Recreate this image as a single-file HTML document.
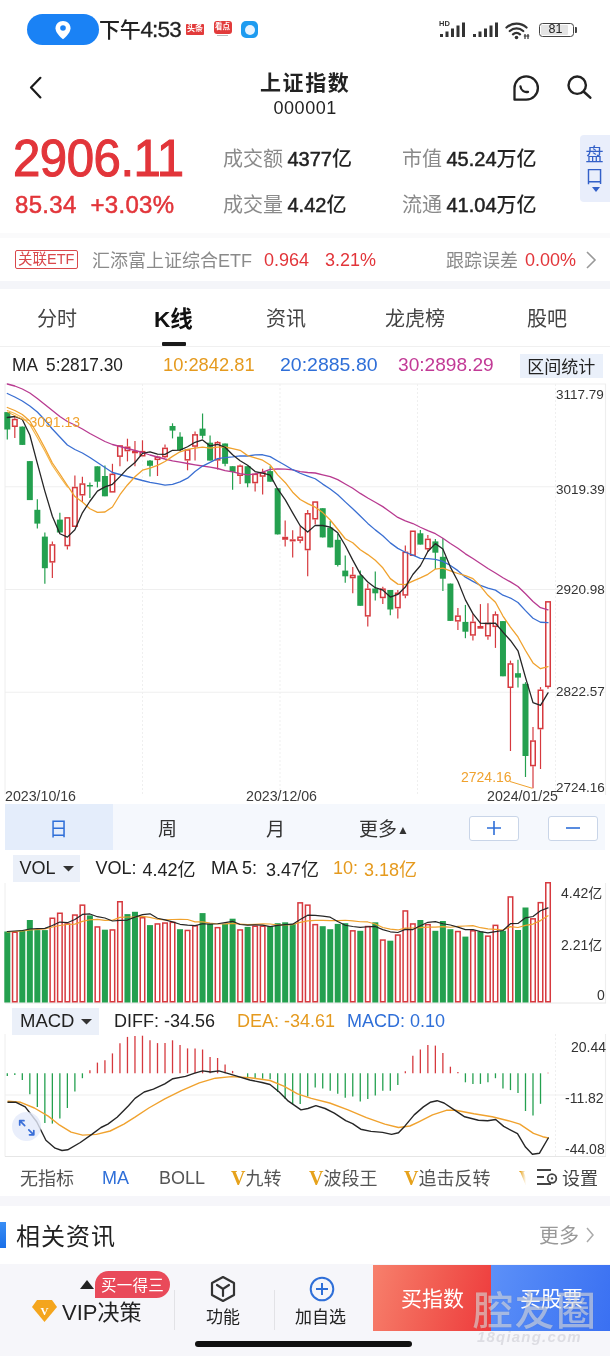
<!DOCTYPE html>
<html><head><meta charset="utf-8">
<style>
*{margin:0;padding:0;box-sizing:border-box}
html,body{width:610px;height:1356px;overflow:hidden;background:#fff}
body{position:relative;font-family:"Liberation Sans","Noto Sans CJK SC",sans-serif;color:#222}
.a{position:absolute;white-space:nowrap}
.cjk{font-family:"Liberation Sans","Noto Sans CJK SC",sans-serif}
.num{font-family:"Liberation Sans","Noto Sans CJK SC",sans-serif}
.gray{color:#8a8a8a}
.red{color:#e2353a}
.band{position:absolute;left:0;width:610px;background:#f4f5f9}
</style></head><body>

<!-- status bar -->
<div class="a" style="left:27px;top:14px;width:72px;height:31px;border-radius:16px;background:#1a82f5"></div>
<svg class="a" style="left:54px;top:20px" width="18" height="20" viewBox="0 0 18 20"><path d="M9 1C4.6 1 1.5 4.2 1.5 8.2c0 4.6 5.3 9.3 7.5 11 2.2-1.7 7.5-6.4 7.5-11C16.5 4.2 13.4 1 9 1z" fill="#fff"/><circle cx="9" cy="8" r="2.8" fill="#1a82f5"/></svg>
<div class="a cjk" style="left:99px;top:15px;font-size:21px;line-height:30px;color:#222;font-weight:500;letter-spacing:-0.3px">下午<span style="font-size:22.5px;letter-spacing:-0.8px;-webkit-text-stroke:0.3px #222">4:53</span></div>
<div class="a" style="left:186px;top:24px;width:18px;height:10.5px;background:#e23b3b;border-radius:1px"></div>
<div class="a cjk" style="left:187px;top:24px;font-size:8px;line-height:10px;color:#fff;font-weight:bold">头条</div>
<div class="a" style="left:214px;top:21px;width:17.5px;height:12.5px;background:#e23b3b;border-radius:3px"></div>
<div class="a cjk" style="left:215px;top:22px;font-size:7.5px;line-height:10px;color:#fff;font-weight:bold">看点</div>
<div class="a" style="left:217px;top:35px;width:11px;height:1px;background:#bbb"></div>
<div class="a" style="left:241px;top:21px;width:17px;height:17px;background:#1d9bf0;border-radius:5px"></div>
<div class="a" style="left:244.5px;top:24.5px;width:10px;height:10px;background:#e6f3ff;border-radius:50%"></div>
<!-- status right -->
<div class="a num" style="left:439px;top:19.5px;font-size:7.5px;line-height:8px;font-weight:bold;color:#333">HD</div>
<svg class="a" style="left:440px;top:22px" width="60" height="16" viewBox="0 0 60 16">
<g fill="#333"><rect x="0" y="12" width="3" height="3"/><rect x="5.5" y="9.5" width="3" height="5.5"/><rect x="11" y="6.5" width="3" height="8.5"/><rect x="16.5" y="3.5" width="3" height="11.5"/><rect x="22" y="0.5" width="3" height="14.5"/>
<rect x="33" y="12" width="3" height="3"/><rect x="38.5" y="9.5" width="3" height="5.5"/><rect x="44" y="6.5" width="3" height="8.5"/><rect x="49.5" y="3.5" width="3" height="11.5"/><rect x="55" y="0.5" width="3" height="14.5"/></g></svg>
<svg class="a" style="left:505px;top:21px" width="26" height="19" viewBox="0 0 26 19"><path d="M1.5 6.5a15 15 0 0 1 20 0M4.8 10a10 10 0 0 1 13.4 0M8 13.3a5.3 5.3 0 0 1 7 0" fill="none" stroke="#333" stroke-width="2.3" stroke-linecap="round"/><circle cx="11.5" cy="16.5" r="1.8" fill="#333"/><path d="M20 13v5M23 13v5M18.8 15h5.5" stroke="#333" stroke-width="1.2"/></svg>
<div class="a" style="left:538.5px;top:22.5px;width:35.5px;height:14.5px;border:1.3px solid #444;border-radius:3.5px"></div>
<div class="a" style="left:541px;top:25px;width:27px;height:9.5px;background:#e4e4e4;border-radius:1px"></div>
<div class="a" style="left:575px;top:27px;width:2px;height:5.5px;background:#444;border-radius:0 1px 1px 0"></div>
<div class="a num" style="left:548.5px;top:22px;font-size:12.5px;line-height:15px;color:#222">81</div>

<!-- header -->
<svg class="a" style="left:27px;top:76px" width="18" height="26" viewBox="0 0 18 26"><path d="M13.4 1.8L4 11.5l9.4 9.9" fill="none" stroke="#1a1a1a" stroke-width="2.2" stroke-linecap="round" stroke-linejoin="round"/></svg>
<div class="a cjk" style="left:260px;top:69px;font-size:21px;line-height:28px;font-weight:bold;color:#222;letter-spacing:1.6px">上证指数</div>
<div class="a num" style="left:273.5px;top:98px;font-size:18px;line-height:20px;color:#222;letter-spacing:0.55px">000001</div>

<svg class="a" style="left:512px;top:74px" width="28" height="28" viewBox="0 0 28 28"><path d="M2.5 25.5V14A11.7 11.7 0 1 1 14.2 25.7H2.5z" fill="none" stroke="#222" stroke-width="2.3" stroke-linejoin="round"/><path d="M8.5 12.5a6 6 0 0 0 7.5 5.3" fill="none" stroke="#222" stroke-width="2.3" stroke-linecap="round"/></svg>
<svg class="a" style="left:566px;top:74px" width="28" height="28" viewBox="0 0 28 28"><circle cx="11.2" cy="11.2" r="8.7" fill="none" stroke="#222" stroke-width="2.4"/><path d="M17.8 17.8l6.5 5.8" stroke="#222" stroke-width="2.6" stroke-linecap="round"/></svg>
<!-- price block -->
<div class="a num red" style="left:13px;top:128px;font-size:52px;line-height:60px;letter-spacing:-0.5px;transform:scaleX(0.945);transform-origin:0 0;-webkit-text-stroke:1.1px #e2353a">2906.11</div>
<div class="a num red" style="left:15px;top:190.5px;font-size:24px;line-height:28px;letter-spacing:0.3px;-webkit-text-stroke:0.5px #e2353a">85.34&nbsp; +3.03%</div>

<div class="a" style="left:223px;top:144px;font-size:20px;line-height:30px"><span class="cjk gray">成交额</span><span class="num" style="color:#222;-webkit-text-stroke:0.5px #222;margin-left:4.5px">4377</span><span class="cjk" style="color:#222;font-weight:500">亿</span></div>
<div class="a" style="left:223px;top:190px;font-size:20px;line-height:30px"><span class="cjk gray">成交量</span><span class="num" style="color:#222;-webkit-text-stroke:0.5px #222;margin-left:4.5px">4.42</span><span class="cjk" style="color:#222;font-weight:500">亿</span></div>
<div class="a" style="left:402px;top:144px;font-size:20px;line-height:30px"><span class="cjk gray">市值</span><span class="num" style="color:#222;-webkit-text-stroke:0.5px #222;margin-left:4.5px">45.24</span><span class="cjk" style="color:#222;font-weight:500">万亿</span></div>
<div class="a" style="left:402px;top:190px;font-size:20px;line-height:30px"><span class="cjk gray">流通</span><span class="num" style="color:#222;-webkit-text-stroke:0.5px #222;margin-left:4.5px">41.04</span><span class="cjk" style="color:#222;font-weight:500">万亿</span></div>

<div class="a" style="left:579.5px;top:135px;width:32px;height:67px;background:#e9eefb;border-radius:4px 0 0 4px"></div>
<svg class="a" style="left:591.5px;top:187px" width="8" height="5" viewBox="0 0 8 5"><path d="M0 0h8L4 5z" fill="#3360c8"/></svg>
<div class="a cjk" style="left:585.5px;top:144px;font-size:18px;line-height:22px;color:#3360c8;width:20px;white-space:normal">盘口</div>

<!-- ETF row -->
<div class="band" style="top:233px;height:4.5px;background:#fafafb"></div>
<div class="a cjk" style="left:15px;top:250px;width:62.5px;height:19px;border:1px solid #d9484b;border-radius:2px;font-size:14.5px;line-height:17px;color:#d9484b;text-align:center">关联ETF</div>
<div class="a cjk gray" style="left:92px;top:248px;font-size:18px;line-height:26px">汇添富上证综合ETF</div>
<div class="a num red" style="left:264px;top:247px;font-size:18px;line-height:26px">0.964</div>
<div class="a num red" style="left:325px;top:247px;font-size:18px;line-height:26px">3.21%</div>
<div class="a cjk gray" style="left:446px;top:248px;font-size:18px;line-height:26px">跟踪误差</div>
<div class="a num red" style="left:525px;top:247px;font-size:18px;line-height:26px">0.00%</div>
<svg class="a" style="left:585px;top:250px" width="12" height="20" viewBox="0 0 12 20"><path d="M2 2l8 8-8 8" fill="none" stroke="#999" stroke-width="1.6"/></svg>
<div class="band" style="top:281px;height:8px"></div>

<!-- tabs -->
<div class="a cjk" style="left:37px;top:305px;font-size:20px;line-height:28px;color:#444">分时</div>
<div class="a cjk" style="left:154px;top:306px;font-size:22.5px;line-height:28px;color:#111;font-weight:bold">K线</div>
<div class="a" style="left:162px;top:341.5px;width:23.5px;height:4.2px;border-radius:1px;background:#1a1a1a"></div>
<div class="a cjk" style="left:266px;top:305px;font-size:20px;line-height:28px;color:#444">资讯</div>
<div class="a cjk" style="left:385px;top:305px;font-size:20px;line-height:28px;color:#444">龙虎榜</div>
<div class="a cjk" style="left:527px;top:305px;font-size:20px;line-height:28px;color:#444">股吧</div>
<div class="a" style="left:0;top:345.5px;width:610px;height:1px;background:#f0f0f0"></div>

<!-- MA row -->
<div class="a num" style="left:11.5px;top:353px;font-size:18.4px;line-height:24px;color:#222;transform:scaleX(0.94);transform-origin:0 0">MA<span style="margin-left:8.6px">5:2817.30</span></div>
<div class="a num" style="left:162.5px;top:353px;font-size:18.4px;line-height:24px;color:#e59a1e;transform:scaleX(0.995);transform-origin:0 0">10:2842.81</div>
<div class="a num" style="left:279.5px;top:353px;font-size:18.4px;line-height:24px;color:#2f6fd8;transform:scaleX(1.06);transform-origin:0 0">20:2885.80</div>
<div class="a num" style="left:397.5px;top:353px;font-size:18.4px;line-height:24px;color:#c23a96;transform:scaleX(1.04);transform-origin:0 0">30:2898.29</div>
<div class="a cjk" style="left:520px;top:354px;width:82.5px;height:23.5px;background:#eaf0fa;font-size:17px;line-height:23.5px;text-align:center;color:#222"><span style="position:relative;top:2px">区间统计</span></div>


<!-- chart svg -->
<svg class="a" style="left:0;top:0" width="610" height="1356" viewBox="0 0 610 1356">
<line x1="5" y1="384" x2="606" y2="384" stroke="#efefef" stroke-width="1"/>
<line x1="5" y1="486.75" x2="606" y2="486.75" stroke="#efefef" stroke-width="1"/>
<line x1="5" y1="589.5" x2="606" y2="589.5" stroke="#efefef" stroke-width="1"/>
<line x1="5" y1="692.25" x2="606" y2="692.25" stroke="#efefef" stroke-width="1"/>
<line x1="142.5" y1="384" x2="142.5" y2="795" stroke="#efefef" stroke-width="1" stroke-dasharray="2,2"/>
<line x1="280" y1="384" x2="280" y2="795" stroke="#efefef" stroke-width="1" stroke-dasharray="2,2"/>
<line x1="417.5" y1="384" x2="417.5" y2="795" stroke="#efefef" stroke-width="1" stroke-dasharray="2,2"/>
<line x1="555.5" y1="384" x2="555.5" y2="795" stroke="#efefef" stroke-width="1" stroke-dasharray="2,2"/>
<line x1="5" y1="384" x2="5" y2="795" stroke="#eeeeee" stroke-width="1"/>
<line x1="605.5" y1="384" x2="605.5" y2="795" stroke="#eeeeee" stroke-width="1.2"/>
<line x1="5" y1="883" x2="5" y2="1003" stroke="#eeeeee" stroke-width="1"/>
<line x1="605.5" y1="883" x2="605.5" y2="1003" stroke="#eeeeee" stroke-width="1.2"/>
<line x1="5" y1="1034" x2="5" y2="1156.5" stroke="#eeeeee" stroke-width="1"/>
<line x1="605.5" y1="1034" x2="605.5" y2="1156.5" stroke="#eeeeee" stroke-width="1.2"/>
<line x1="555.5" y1="1034" x2="555.5" y2="1156.5" stroke="#efefef" stroke-width="1" stroke-dasharray="2,2"/>
<line x1="7.3" y1="412" x2="7.3" y2="439.6" stroke="#24a04f" stroke-width="1.2"/>
<rect x="4.3" y="412.1" width="6" height="17.4" fill="#24a04f"/>
<line x1="14.81" y1="416.8" x2="14.81" y2="418.8" stroke="#d6393e" stroke-width="1.2"/>
<line x1="14.81" y1="427" x2="14.81" y2="438" stroke="#d6393e" stroke-width="1.2"/>
<rect x="12.56" y="419.55" width="4.5" height="6.7" fill="#fff" stroke="#d6393e" stroke-width="1.5"/>
<line x1="22.32" y1="426.6" x2="22.32" y2="444.9" stroke="#24a04f" stroke-width="1.2"/>
<rect x="19.32" y="426.6" width="6" height="18.3" fill="#24a04f"/>
<line x1="29.83" y1="461.1" x2="29.83" y2="500.1" stroke="#24a04f" stroke-width="1.2"/>
<rect x="26.83" y="461.1" width="6" height="39" fill="#24a04f"/>
<line x1="37.34" y1="499.3" x2="37.34" y2="528.5" stroke="#24a04f" stroke-width="1.2"/>
<rect x="34.34" y="509.8" width="6" height="13.8" fill="#24a04f"/>
<line x1="44.85" y1="532.5" x2="44.85" y2="583.7" stroke="#24a04f" stroke-width="1.2"/>
<rect x="41.85" y="536.6" width="6" height="31.6" fill="#24a04f"/>
<line x1="52.36" y1="541.5" x2="52.36" y2="544.2" stroke="#d6393e" stroke-width="1.2"/>
<line x1="52.36" y1="562.6" x2="52.36" y2="578" stroke="#d6393e" stroke-width="1.2"/>
<rect x="50.11" y="544.95" width="4.5" height="16.9" fill="#fff" stroke="#d6393e" stroke-width="1.5"/>
<line x1="59.87" y1="512.7" x2="59.87" y2="532.5" stroke="#24a04f" stroke-width="1.2"/>
<rect x="56.87" y="519.6" width="6" height="12.9" fill="#24a04f"/>
<line x1="67.38" y1="517" x2="67.38" y2="517.1" stroke="#d6393e" stroke-width="1.2"/>
<line x1="67.38" y1="546.3" x2="67.38" y2="549.6" stroke="#d6393e" stroke-width="1.2"/>
<rect x="65.13" y="517.85" width="4.5" height="27.7" fill="#fff" stroke="#d6393e" stroke-width="1.5"/>
<line x1="74.89" y1="475.5" x2="74.89" y2="486.8" stroke="#d6393e" stroke-width="1.2"/>
<line x1="74.89" y1="527" x2="74.89" y2="527" stroke="#d6393e" stroke-width="1.2"/>
<rect x="72.64" y="487.55" width="4.5" height="38.7" fill="#fff" stroke="#d6393e" stroke-width="1.5"/>
<line x1="82.4" y1="476.8" x2="82.4" y2="483.3" stroke="#d6393e" stroke-width="1.2"/>
<line x1="82.4" y1="495.5" x2="82.4" y2="502" stroke="#d6393e" stroke-width="1.2"/>
<rect x="80.15" y="484.05" width="4.5" height="10.7" fill="#fff" stroke="#d6393e" stroke-width="1.5"/>
<line x1="89.91" y1="482.5" x2="89.91" y2="497.9" stroke="#24a04f" stroke-width="1.2"/>
<rect x="86.91" y="485" width="6" height="1.5" fill="#24a04f"/>
<line x1="97.42" y1="466.3" x2="97.42" y2="487.4" stroke="#24a04f" stroke-width="1.2"/>
<rect x="94.42" y="466.3" width="6" height="15.4" fill="#24a04f"/>
<line x1="104.93" y1="465.5" x2="104.93" y2="496.3" stroke="#24a04f" stroke-width="1.2"/>
<rect x="101.93" y="476" width="6" height="20.3" fill="#24a04f"/>
<line x1="112.44" y1="463.8" x2="112.44" y2="473.6" stroke="#d6393e" stroke-width="1.2"/>
<line x1="112.44" y1="492.6" x2="112.44" y2="492.6" stroke="#d6393e" stroke-width="1.2"/>
<rect x="110.19" y="474.35" width="4.5" height="17.5" fill="#fff" stroke="#d6393e" stroke-width="1.5"/>
<line x1="119.95" y1="445.2" x2="119.95" y2="445.2" stroke="#d6393e" stroke-width="1.2"/>
<line x1="119.95" y1="456.9" x2="119.95" y2="466.3" stroke="#d6393e" stroke-width="1.2"/>
<rect x="117.7" y="445.95" width="4.5" height="10.2" fill="#fff" stroke="#d6393e" stroke-width="1.5"/>
<line x1="127.46" y1="438.7" x2="127.46" y2="446.5" stroke="#d6393e" stroke-width="1.2"/>
<line x1="127.46" y1="451.3" x2="127.46" y2="461.4" stroke="#d6393e" stroke-width="1.2"/>
<rect x="125.21" y="447.25" width="4.5" height="3.3" fill="#fff" stroke="#d6393e" stroke-width="1.5"/>
<line x1="134.97" y1="441.1" x2="134.97" y2="450.9" stroke="#d6393e" stroke-width="1.2"/>
<line x1="134.97" y1="453.3" x2="134.97" y2="466.3" stroke="#d6393e" stroke-width="1.2"/>
<rect x="132.72" y="451.65" width="4.5" height="0.9" fill="#fff" stroke="#d6393e" stroke-width="1.5"/>
<line x1="142.48" y1="440.3" x2="142.48" y2="450.9" stroke="#d6393e" stroke-width="1.2"/>
<line x1="142.48" y1="456.5" x2="142.48" y2="456.5" stroke="#d6393e" stroke-width="1.2"/>
<rect x="140.23" y="451.65" width="4.5" height="4.1" fill="#fff" stroke="#d6393e" stroke-width="1.5"/>
<line x1="149.99" y1="460" x2="149.99" y2="476.5" stroke="#24a04f" stroke-width="1.2"/>
<rect x="146.99" y="460.6" width="6" height="5.2" fill="#24a04f"/>
<line x1="157.5" y1="455.7" x2="157.5" y2="456.5" stroke="#d6393e" stroke-width="1.2"/>
<line x1="157.5" y1="460.1" x2="157.5" y2="476" stroke="#d6393e" stroke-width="1.2"/>
<rect x="155.25" y="457.25" width="4.5" height="2.1" fill="#fff" stroke="#d6393e" stroke-width="1.5"/>
<line x1="165.01" y1="444.4" x2="165.01" y2="447.6" stroke="#d6393e" stroke-width="1.2"/>
<line x1="165.01" y1="457.3" x2="165.01" y2="458" stroke="#d6393e" stroke-width="1.2"/>
<rect x="162.76" y="448.35" width="4.5" height="8.2" fill="#fff" stroke="#d6393e" stroke-width="1.5"/>
<line x1="172.52" y1="423.3" x2="172.52" y2="438.4" stroke="#24a04f" stroke-width="1.2"/>
<rect x="169.52" y="426" width="6" height="4.6" fill="#24a04f"/>
<line x1="180.03" y1="432.2" x2="180.03" y2="450.9" stroke="#24a04f" stroke-width="1.2"/>
<rect x="177.03" y="436.7" width="6" height="13.3" fill="#24a04f"/>
<line x1="187.54" y1="449.2" x2="187.54" y2="449.2" stroke="#d6393e" stroke-width="1.2"/>
<line x1="187.54" y1="460.6" x2="187.54" y2="470.3" stroke="#d6393e" stroke-width="1.2"/>
<rect x="185.29" y="449.95" width="4.5" height="9.9" fill="#fff" stroke="#d6393e" stroke-width="1.5"/>
<line x1="195.05" y1="431.4" x2="195.05" y2="434.1" stroke="#d6393e" stroke-width="1.2"/>
<line x1="195.05" y1="446.8" x2="195.05" y2="460.6" stroke="#d6393e" stroke-width="1.2"/>
<rect x="192.8" y="434.85" width="4.5" height="11.2" fill="#fff" stroke="#d6393e" stroke-width="1.5"/>
<line x1="202.56" y1="413.5" x2="202.56" y2="438.7" stroke="#24a04f" stroke-width="1.2"/>
<rect x="199.56" y="428.6" width="6" height="7.2" fill="#24a04f"/>
<line x1="210.07" y1="435.4" x2="210.07" y2="460.6" stroke="#24a04f" stroke-width="1.2"/>
<rect x="207.07" y="442.7" width="6" height="17.9" fill="#24a04f"/>
<line x1="217.58" y1="441" x2="217.58" y2="441.9" stroke="#d6393e" stroke-width="1.2"/>
<line x1="217.58" y1="460.6" x2="217.58" y2="469.5" stroke="#d6393e" stroke-width="1.2"/>
<rect x="215.33" y="442.65" width="4.5" height="17.2" fill="#fff" stroke="#d6393e" stroke-width="1.5"/>
<line x1="225.09" y1="443.5" x2="225.09" y2="466.3" stroke="#24a04f" stroke-width="1.2"/>
<rect x="222.09" y="443.5" width="6" height="20.3" fill="#24a04f"/>
<line x1="232.6" y1="466.2" x2="232.6" y2="489.8" stroke="#24a04f" stroke-width="1.2"/>
<rect x="229.6" y="466.2" width="6" height="5.7" fill="#24a04f"/>
<line x1="240.11" y1="464.6" x2="240.11" y2="465.4" stroke="#d6393e" stroke-width="1.2"/>
<line x1="240.11" y1="476" x2="240.11" y2="484.1" stroke="#d6393e" stroke-width="1.2"/>
<rect x="237.86" y="466.15" width="4.5" height="9.1" fill="#fff" stroke="#d6393e" stroke-width="1.5"/>
<line x1="247.62" y1="466.2" x2="247.62" y2="487.3" stroke="#24a04f" stroke-width="1.2"/>
<rect x="244.62" y="466.2" width="6" height="17.1" fill="#24a04f"/>
<line x1="255.13" y1="472.8" x2="255.13" y2="473.6" stroke="#d6393e" stroke-width="1.2"/>
<line x1="255.13" y1="483.3" x2="255.13" y2="491.4" stroke="#d6393e" stroke-width="1.2"/>
<rect x="252.88" y="474.35" width="4.5" height="8.2" fill="#fff" stroke="#d6393e" stroke-width="1.5"/>
<line x1="262.64" y1="468.7" x2="262.64" y2="471.9" stroke="#d6393e" stroke-width="1.2"/>
<line x1="262.64" y1="476.8" x2="262.64" y2="494.6" stroke="#d6393e" stroke-width="1.2"/>
<rect x="260.39" y="472.65" width="4.5" height="3.4" fill="#fff" stroke="#d6393e" stroke-width="1.5"/>
<line x1="270.15" y1="466.2" x2="270.15" y2="481.7" stroke="#24a04f" stroke-width="1.2"/>
<rect x="267.15" y="471.1" width="6" height="10.6" fill="#24a04f"/>
<line x1="277.66" y1="488.2" x2="277.66" y2="534.4" stroke="#24a04f" stroke-width="1.2"/>
<rect x="274.66" y="488.2" width="6" height="46.2" fill="#24a04f"/>
<line x1="285.17" y1="520.6" x2="285.17" y2="536.8" stroke="#d6393e" stroke-width="1.2"/>
<line x1="285.17" y1="539.8" x2="285.17" y2="546.6" stroke="#d6393e" stroke-width="1.2"/>
<rect x="282.92" y="537.55" width="4.5" height="1.5" fill="#fff" stroke="#d6393e" stroke-width="1.5"/>
<line x1="292.68" y1="530.3" x2="292.68" y2="539.3" stroke="#d6393e" stroke-width="1.2"/>
<line x1="292.68" y1="541.4" x2="292.68" y2="557.6" stroke="#d6393e" stroke-width="1.2"/>
<rect x="290.43" y="540.05" width="4.5" height="0.6" fill="#fff" stroke="#d6393e" stroke-width="1.5"/>
<line x1="300.19" y1="526.3" x2="300.19" y2="536.5" stroke="#d6393e" stroke-width="1.2"/>
<line x1="300.19" y1="540.9" x2="300.19" y2="543.3" stroke="#d6393e" stroke-width="1.2"/>
<rect x="297.94" y="537.25" width="4.5" height="2.9" fill="#fff" stroke="#d6393e" stroke-width="1.5"/>
<line x1="307.7" y1="510.1" x2="307.7" y2="513" stroke="#d6393e" stroke-width="1.2"/>
<line x1="307.7" y1="550.3" x2="307.7" y2="576.3" stroke="#d6393e" stroke-width="1.2"/>
<rect x="305.45" y="513.75" width="4.5" height="35.8" fill="#fff" stroke="#d6393e" stroke-width="1.5"/>
<line x1="315.21" y1="501.3" x2="315.21" y2="501.3" stroke="#d6393e" stroke-width="1.2"/>
<line x1="315.21" y1="519.5" x2="315.21" y2="524.4" stroke="#d6393e" stroke-width="1.2"/>
<rect x="312.96" y="502.05" width="4.5" height="16.7" fill="#fff" stroke="#d6393e" stroke-width="1.5"/>
<line x1="322.72" y1="508.2" x2="322.72" y2="537.4" stroke="#24a04f" stroke-width="1.2"/>
<rect x="319.72" y="508.2" width="6" height="29.2" fill="#24a04f"/>
<line x1="330.23" y1="521.1" x2="330.23" y2="547.4" stroke="#24a04f" stroke-width="1.2"/>
<rect x="327.23" y="527.6" width="6" height="19.8" fill="#24a04f"/>
<line x1="337.74" y1="534.1" x2="337.74" y2="566.6" stroke="#24a04f" stroke-width="1.2"/>
<rect x="334.74" y="539.8" width="6" height="25.2" fill="#24a04f"/>
<line x1="345.25" y1="555.5" x2="345.25" y2="582.8" stroke="#24a04f" stroke-width="1.2"/>
<rect x="342.25" y="570.6" width="6" height="5.7" fill="#24a04f"/>
<line x1="352.76" y1="566.9" x2="352.76" y2="574.7" stroke="#d6393e" stroke-width="1.2"/>
<line x1="352.76" y1="578.3" x2="352.76" y2="593.3" stroke="#d6393e" stroke-width="1.2"/>
<rect x="350.51" y="575.45" width="4.5" height="2.1" fill="#fff" stroke="#d6393e" stroke-width="1.5"/>
<line x1="360.27" y1="570.6" x2="360.27" y2="605.8" stroke="#24a04f" stroke-width="1.2"/>
<rect x="357.27" y="575.5" width="6" height="30.3" fill="#24a04f"/>
<line x1="367.78" y1="583.6" x2="367.78" y2="588.5" stroke="#d6393e" stroke-width="1.2"/>
<line x1="367.78" y1="616.6" x2="367.78" y2="626.6" stroke="#d6393e" stroke-width="1.2"/>
<rect x="365.53" y="589.25" width="4.5" height="26.6" fill="#fff" stroke="#d6393e" stroke-width="1.5"/>
<line x1="375.29" y1="571.4" x2="375.29" y2="600.6" stroke="#24a04f" stroke-width="1.2"/>
<rect x="372.29" y="588.5" width="6" height="4.8" fill="#24a04f"/>
<line x1="382.8" y1="586.8" x2="382.8" y2="588.4" stroke="#d6393e" stroke-width="1.2"/>
<line x1="382.8" y1="598.2" x2="382.8" y2="603.9" stroke="#d6393e" stroke-width="1.2"/>
<rect x="380.55" y="589.15" width="4.5" height="8.3" fill="#fff" stroke="#d6393e" stroke-width="1.5"/>
<line x1="390.31" y1="590" x2="390.31" y2="615.2" stroke="#24a04f" stroke-width="1.2"/>
<rect x="387.31" y="590" width="6" height="19.5" fill="#24a04f"/>
<line x1="397.82" y1="590" x2="397.82" y2="592.5" stroke="#d6393e" stroke-width="1.2"/>
<line x1="397.82" y1="608.4" x2="397.82" y2="618.5" stroke="#d6393e" stroke-width="1.2"/>
<rect x="395.57" y="593.25" width="4.5" height="14.4" fill="#fff" stroke="#d6393e" stroke-width="1.5"/>
<line x1="405.33" y1="545.4" x2="405.33" y2="551.6" stroke="#d6393e" stroke-width="1.2"/>
<line x1="405.33" y1="595.7" x2="405.33" y2="598.2" stroke="#d6393e" stroke-width="1.2"/>
<rect x="403.08" y="552.35" width="4.5" height="42.6" fill="#fff" stroke="#d6393e" stroke-width="1.5"/>
<line x1="412.84" y1="530.5" x2="412.84" y2="530.5" stroke="#d6393e" stroke-width="1.2"/>
<line x1="412.84" y1="556" x2="412.84" y2="556" stroke="#d6393e" stroke-width="1.2"/>
<rect x="410.59" y="531.25" width="4.5" height="24" fill="#fff" stroke="#d6393e" stroke-width="1.5"/>
<line x1="420.35" y1="530" x2="420.35" y2="544.6" stroke="#24a04f" stroke-width="1.2"/>
<rect x="417.35" y="533.3" width="6" height="11.3" fill="#24a04f"/>
<line x1="427.86" y1="534.9" x2="427.86" y2="538.6" stroke="#d6393e" stroke-width="1.2"/>
<line x1="427.86" y1="549.5" x2="427.86" y2="551.9" stroke="#d6393e" stroke-width="1.2"/>
<rect x="425.61" y="539.35" width="4.5" height="9.4" fill="#fff" stroke="#d6393e" stroke-width="1.5"/>
<line x1="435.37" y1="538.9" x2="435.37" y2="569" stroke="#24a04f" stroke-width="1.2"/>
<rect x="432.37" y="541.4" width="6" height="11.3" fill="#24a04f"/>
<line x1="442.88" y1="538.1" x2="442.88" y2="590.9" stroke="#24a04f" stroke-width="1.2"/>
<rect x="439.88" y="556.8" width="6" height="21.9" fill="#24a04f"/>
<line x1="450.39" y1="583.6" x2="450.39" y2="620.9" stroke="#24a04f" stroke-width="1.2"/>
<rect x="447.39" y="583.6" width="6" height="37.3" fill="#24a04f"/>
<line x1="457.9" y1="608.1" x2="457.9" y2="615.4" stroke="#d6393e" stroke-width="1.2"/>
<line x1="457.9" y1="621.6" x2="457.9" y2="630" stroke="#d6393e" stroke-width="1.2"/>
<rect x="455.65" y="616.15" width="4.5" height="4.7" fill="#fff" stroke="#d6393e" stroke-width="1.5"/>
<line x1="465.41" y1="604.9" x2="465.41" y2="638.2" stroke="#24a04f" stroke-width="1.2"/>
<rect x="462.41" y="621.9" width="6" height="9.8" fill="#24a04f"/>
<line x1="472.92" y1="613.8" x2="472.92" y2="621.6" stroke="#d6393e" stroke-width="1.2"/>
<line x1="472.92" y1="635.7" x2="472.92" y2="640.6" stroke="#d6393e" stroke-width="1.2"/>
<rect x="470.67" y="622.35" width="4.5" height="12.6" fill="#fff" stroke="#d6393e" stroke-width="1.5"/>
<line x1="480.43" y1="604.1" x2="480.43" y2="626" stroke="#d6393e" stroke-width="1.2"/>
<line x1="480.43" y1="628.7" x2="480.43" y2="628.7" stroke="#d6393e" stroke-width="1.2"/>
<rect x="478.18" y="626.75" width="4.5" height="1.2" fill="#fff" stroke="#d6393e" stroke-width="1.5"/>
<line x1="487.94" y1="603.3" x2="487.94" y2="622.7" stroke="#d6393e" stroke-width="1.2"/>
<line x1="487.94" y1="636.5" x2="487.94" y2="639.8" stroke="#d6393e" stroke-width="1.2"/>
<rect x="485.69" y="623.45" width="4.5" height="12.3" fill="#fff" stroke="#d6393e" stroke-width="1.5"/>
<line x1="495.45" y1="611.4" x2="495.45" y2="614.1" stroke="#d6393e" stroke-width="1.2"/>
<line x1="495.45" y1="627.1" x2="495.45" y2="647.9" stroke="#d6393e" stroke-width="1.2"/>
<rect x="493.2" y="614.85" width="4.5" height="11.5" fill="#fff" stroke="#d6393e" stroke-width="1.5"/>
<line x1="502.96" y1="621.1" x2="502.96" y2="676.3" stroke="#24a04f" stroke-width="1.2"/>
<rect x="499.96" y="621.1" width="6" height="55.2" fill="#24a04f"/>
<line x1="510.47" y1="660.6" x2="510.47" y2="663.2" stroke="#d6393e" stroke-width="1.2"/>
<line x1="510.47" y1="688" x2="510.47" y2="751" stroke="#d6393e" stroke-width="1.2"/>
<rect x="508.22" y="663.95" width="4.5" height="23.3" fill="#fff" stroke="#d6393e" stroke-width="1.5"/>
<line x1="517.98" y1="659.8" x2="517.98" y2="687.5" stroke="#24a04f" stroke-width="1.2"/>
<rect x="514.98" y="673.2" width="6" height="4.4" fill="#24a04f"/>
<line x1="525.49" y1="682.2" x2="525.49" y2="777" stroke="#24a04f" stroke-width="1.2"/>
<rect x="522.49" y="683.8" width="6" height="72.2" fill="#24a04f"/>
<line x1="533" y1="726.9" x2="533" y2="740.3" stroke="#d6393e" stroke-width="1.2"/>
<line x1="533" y1="766.3" x2="533" y2="788.3" stroke="#d6393e" stroke-width="1.2"/>
<rect x="530.75" y="741.05" width="4.5" height="24.5" fill="#fff" stroke="#d6393e" stroke-width="1.5"/>
<line x1="540.51" y1="687.1" x2="540.51" y2="689.5" stroke="#d6393e" stroke-width="1.2"/>
<line x1="540.51" y1="729.3" x2="540.51" y2="769" stroke="#d6393e" stroke-width="1.2"/>
<rect x="538.26" y="690.25" width="4.5" height="38.3" fill="#fff" stroke="#d6393e" stroke-width="1.5"/>
<line x1="548.02" y1="601.1" x2="548.02" y2="601.1" stroke="#d6393e" stroke-width="1.2"/>
<line x1="548.02" y1="687.1" x2="548.02" y2="688.7" stroke="#d6393e" stroke-width="1.2"/>
<rect x="545.77" y="601.85" width="4.5" height="84.5" fill="#fff" stroke="#d6393e" stroke-width="1.5"/>
<polyline points="7.3,384 14.81,386 22.32,389 29.83,393 37.34,398.5 44.85,404.5 52.36,410.5 59.87,416.5 67.38,421.5 74.89,425 82.4,429 89.91,433.5 97.42,437.5 104.93,441.5 112.44,444.5 119.95,446.5 127.46,448.5 134.97,450.5 142.48,452.5 149.99,455 157.5,457 165.01,459 172.52,460.8 180.03,462.2 187.54,463.5 195.05,464.8 202.56,466 210.07,467.2 217.58,468.5 225.09,470.55 232.6,471.96 240.11,473.52 247.62,474.8 255.13,473.91 262.64,472.19 270.15,469.31 277.66,468.98 285.17,469.12 292.68,469.86 300.19,471.52 307.7,472.51 315.21,473 322.72,474.86 330.23,476.56 337.74,479.61 345.25,483.98 352.76,488.25 360.27,493.42 367.78,498 375.29,502.25 382.8,506.65 390.31,512.05 397.82,517.44 405.33,520.83 412.84,523.54 420.35,527.22 427.86,530.65 435.37,533.72 442.88,538.28 450.39,543.52 457.9,548.3 465.41,553.84 472.92,558.45 480.43,563.53 487.94,568.56 495.45,572.97 502.96,577.7 510.47,581.92 517.98,586.53 525.49,593.84 533,601.42 540.51,607.69 548.02,609.82" fill="none" stroke="#b83a90" stroke-width="1.3" stroke-linejoin="round" stroke-linecap="round" />
<polyline points="7.3,393.5 14.81,397 22.32,401 29.83,406 37.34,412 44.85,420 52.36,429 59.87,437 67.38,445 74.89,449.5 82.4,453 89.91,457.5 97.42,462.5 104.93,467.5 112.44,472.5 119.95,474.5 127.46,476.5 134.97,478.5 142.48,480.5 149.99,482.32 157.5,483.67 165.01,485.11 172.52,484.39 180.03,481.89 187.54,478.17 195.05,471.46 202.56,466.04 210.07,462.45 217.58,458.69 225.09,457.54 232.6,456.97 240.11,455.91 247.62,456 255.13,454.86 262.64,454.77 270.15,456.6 277.66,461 285.17,465.29 292.68,469.71 300.19,473.25 307.7,476.07 315.21,478.75 322.72,484.09 330.23,488.96 337.74,494.75 345.25,501.86 352.76,508.81 360.27,516.07 367.78,523.4 375.29,529.88 382.8,535.7 390.31,542.9 397.82,548.37 405.33,552.26 412.84,555.19 420.35,558.34 427.86,558.55 435.37,559.35 442.88,561.31 450.39,565.54 457.9,570.65 465.41,577.17 472.92,581.38 480.43,585.31 487.94,588.2 495.45,590.09 502.96,595.17 510.47,598.04 517.98,602.5 525.49,610.63 533,618.23 540.51,622.23 548.02,622.65" fill="none" stroke="#3a6fd2" stroke-width="1.3" stroke-linejoin="round" stroke-linecap="round" />
<polyline points="7.3,410.5 14.81,413.5 22.32,417.5 29.83,424.5 37.34,437.5 44.85,451 52.36,465.5 59.87,476.5 67.38,487" fill="none" stroke="#f5b64a" stroke-width="1.2" stroke-linejoin="round" stroke-linecap="round" />
<polyline points="7.3,407.5 14.81,410.5 22.32,414.5 29.83,421 37.34,434 44.85,448 52.36,463 59.87,474 67.38,485.5 74.89,496.57 82.4,501.95 89.91,508.72 97.42,512.4 104.93,512.02 112.44,507.02 119.95,494.72 127.46,484.95 134.97,476.79 142.48,470.17 149.99,468.07 157.5,465.39 165.01,461.5 172.52,456.39 180.03,451.76 187.54,449.32 195.05,448.21 202.56,447.14 210.07,448.11 217.58,447.21 225.09,447.01 232.6,448.55 240.11,450.33 247.62,455.6 255.13,457.96 262.64,460.23 270.15,464.99 277.66,474.85 285.17,482.47 292.68,492.21 300.19,499.48 307.7,503.59 315.21,507.18 322.72,512.59 330.23,519.97 337.74,529.28 345.25,538.74 352.76,542.77 360.27,549.67 367.78,554.59 375.29,560.27 382.8,567.81 390.31,578.63 397.82,584.14 405.33,584.56 412.84,581.11 420.35,577.94 427.86,574.33 435.37,569.02 442.88,568.04 450.39,570.8 457.9,573.5 465.41,575.72 472.92,578.63 480.43,586.07 487.94,595.29 495.45,602.24 502.96,616.01 510.47,627.06 517.98,636.95 525.49,650.46 533,662.95 540.51,668.73 548.02,666.68" fill="none" stroke="#f0a22e" stroke-width="1.3" stroke-linejoin="round" stroke-linecap="round" />
<polyline points="7.3,417.5 14.81,416.5 22.32,419.5 29.83,435 37.34,463.38 44.85,491.12 52.36,516.2 59.87,533.72 67.38,537.12 74.89,529.76 82.4,512.78 89.91,501.24 97.42,491.08 104.93,486.92 112.44,484.28 119.95,476.66 127.46,468.66 134.97,462.5 142.48,453.42 149.99,451.86 157.5,454.12 165.01,454.34 172.52,450.28 180.03,450.1 187.54,446.78 195.05,442.3 202.56,439.94 210.07,445.94 217.58,444.32 225.09,447.24 232.6,454.8 240.11,460.72 247.62,465.26 255.13,471.6 262.64,473.22 270.15,475.18 277.66,488.98 285.17,499.68 292.68,512.82 300.19,525.74 307.7,532 315.21,525.38 322.72,525.5 330.23,527.12 337.74,532.82 345.25,545.48 352.76,560.16 360.27,573.84 367.78,582.06 375.29,587.72 382.8,590.14 390.31,597.1 397.82,594.44 405.33,587.06 412.84,574.5 420.35,565.74 427.86,551.56 435.37,543.6 442.88,549.02 450.39,567.1 457.9,581.26 465.41,599.88 472.92,613.66 480.43,623.12 487.94,623.48 495.45,623.22 502.96,632.14 510.47,640.46 517.98,650.78 525.49,677.44 533,702.68 540.51,705.32 548.02,692.9" fill="none" stroke="#262626" stroke-width="1.3" stroke-linejoin="round" stroke-linecap="round" />
<polyline points="7.3,412 24,420 29,420" fill="none" stroke="#f0a22e" stroke-width="1"/>
<text x="29.5" y="426.5" font-size="14" fill="#f0a22e" font-family="Liberation Sans, sans-serif">3091.13</text>
<polyline points="510,781.5 532.4,788.3" fill="none" stroke="#f0a22e" stroke-width="1"/>
<text x="461" y="782" font-size="14" fill="#f0a22e" font-family="Liberation Sans, sans-serif">2724.16</text>
<line x1="5" y1="1003" x2="606" y2="1003" stroke="#e6e6e6" stroke-width="1"/>
<rect x="4.3" y="931.5" width="6" height="71" fill="#24a04f"/>
<rect x="12.56" y="932.25" width="4.5" height="69.5" fill="#fff" stroke="#d6393e" stroke-width="1.5"/>
<rect x="19.32" y="930.1" width="6" height="72.4" fill="#24a04f"/>
<rect x="26.83" y="920" width="6" height="82.5" fill="#24a04f"/>
<rect x="34.34" y="930.1" width="6" height="72.4" fill="#24a04f"/>
<rect x="41.85" y="930.1" width="6" height="72.4" fill="#24a04f"/>
<rect x="50.11" y="918.25" width="4.5" height="83.5" fill="#fff" stroke="#d6393e" stroke-width="1.5"/>
<rect x="57.62" y="913.25" width="4.5" height="88.5" fill="#fff" stroke="#d6393e" stroke-width="1.5"/>
<rect x="65.13" y="923.95" width="4.5" height="77.8" fill="#fff" stroke="#d6393e" stroke-width="1.5"/>
<rect x="72.64" y="915.05" width="4.5" height="86.7" fill="#fff" stroke="#d6393e" stroke-width="1.5"/>
<rect x="80.15" y="905.15" width="4.5" height="96.6" fill="#fff" stroke="#d6393e" stroke-width="1.5"/>
<rect x="86.91" y="915.4" width="6" height="87.1" fill="#24a04f"/>
<rect x="95.17" y="926.95" width="4.5" height="74.8" fill="#fff" stroke="#d6393e" stroke-width="1.5"/>
<rect x="101.93" y="929.7" width="6" height="72.8" fill="#24a04f"/>
<rect x="110.19" y="929.95" width="4.5" height="71.8" fill="#fff" stroke="#d6393e" stroke-width="1.5"/>
<rect x="117.7" y="901.75" width="4.5" height="100" fill="#fff" stroke="#d6393e" stroke-width="1.5"/>
<rect x="124.46" y="914.1" width="6" height="88.4" fill="#24a04f"/>
<rect x="131.97" y="911.8" width="6" height="90.7" fill="#24a04f"/>
<rect x="140.23" y="917.75" width="4.5" height="84" fill="#fff" stroke="#d6393e" stroke-width="1.5"/>
<rect x="146.99" y="925.1" width="6" height="77.4" fill="#24a04f"/>
<rect x="155.25" y="923.95" width="4.5" height="77.8" fill="#fff" stroke="#d6393e" stroke-width="1.5"/>
<rect x="162.76" y="923.05" width="4.5" height="78.7" fill="#fff" stroke="#d6393e" stroke-width="1.5"/>
<rect x="170.27" y="922.35" width="4.5" height="79.4" fill="#fff" stroke="#d6393e" stroke-width="1.5"/>
<rect x="177.03" y="929.2" width="6" height="73.3" fill="#24a04f"/>
<rect x="185.29" y="930.45" width="4.5" height="71.3" fill="#fff" stroke="#d6393e" stroke-width="1.5"/>
<rect x="192.8" y="925.85" width="4.5" height="75.9" fill="#fff" stroke="#d6393e" stroke-width="1.5"/>
<rect x="199.56" y="913.1" width="6" height="89.4" fill="#24a04f"/>
<rect x="207.07" y="923.9" width="6" height="78.6" fill="#24a04f"/>
<rect x="215.33" y="927.65" width="4.5" height="74.1" fill="#fff" stroke="#d6393e" stroke-width="1.5"/>
<rect x="222.09" y="923.9" width="6" height="78.6" fill="#24a04f"/>
<rect x="229.6" y="918.7" width="6" height="83.8" fill="#24a04f"/>
<rect x="237.86" y="929.95" width="4.5" height="71.8" fill="#fff" stroke="#d6393e" stroke-width="1.5"/>
<rect x="244.62" y="926.9" width="6" height="75.6" fill="#24a04f"/>
<rect x="252.88" y="926.25" width="4.5" height="75.5" fill="#fff" stroke="#d6393e" stroke-width="1.5"/>
<rect x="260.39" y="926.25" width="4.5" height="75.5" fill="#fff" stroke="#d6393e" stroke-width="1.5"/>
<rect x="267.15" y="926.2" width="6" height="76.3" fill="#24a04f"/>
<rect x="274.66" y="923.2" width="6" height="79.3" fill="#24a04f"/>
<rect x="282.17" y="922.3" width="6" height="80.2" fill="#24a04f"/>
<rect x="289.68" y="923.9" width="6" height="78.6" fill="#24a04f"/>
<rect x="297.94" y="902.85" width="4.5" height="98.9" fill="#fff" stroke="#d6393e" stroke-width="1.5"/>
<rect x="305.45" y="905.15" width="4.5" height="96.6" fill="#fff" stroke="#d6393e" stroke-width="1.5"/>
<rect x="312.96" y="924.65" width="4.5" height="77.1" fill="#fff" stroke="#d6393e" stroke-width="1.5"/>
<rect x="319.72" y="926.2" width="6" height="76.3" fill="#24a04f"/>
<rect x="327.23" y="929.2" width="6" height="73.3" fill="#24a04f"/>
<rect x="334.74" y="923.9" width="6" height="78.6" fill="#24a04f"/>
<rect x="342.25" y="923.2" width="6" height="79.3" fill="#24a04f"/>
<rect x="350.51" y="930.85" width="4.5" height="70.9" fill="#fff" stroke="#d6393e" stroke-width="1.5"/>
<rect x="357.27" y="930.8" width="6" height="71.7" fill="#24a04f"/>
<rect x="365.53" y="926.55" width="4.5" height="75.2" fill="#fff" stroke="#d6393e" stroke-width="1.5"/>
<rect x="372.29" y="922.3" width="6" height="80.2" fill="#24a04f"/>
<rect x="380.55" y="940.05" width="4.5" height="61.7" fill="#fff" stroke="#d6393e" stroke-width="1.5"/>
<rect x="387.31" y="940.7" width="6" height="61.8" fill="#24a04f"/>
<rect x="395.57" y="935.05" width="4.5" height="66.7" fill="#fff" stroke="#d6393e" stroke-width="1.5"/>
<rect x="403.08" y="910.95" width="4.5" height="90.8" fill="#fff" stroke="#d6393e" stroke-width="1.5"/>
<rect x="410.59" y="923.95" width="4.5" height="77.8" fill="#fff" stroke="#d6393e" stroke-width="1.5"/>
<rect x="417.35" y="920" width="6" height="82.5" fill="#24a04f"/>
<rect x="425.61" y="924.65" width="4.5" height="77.1" fill="#fff" stroke="#d6393e" stroke-width="1.5"/>
<rect x="432.37" y="930.8" width="6" height="71.7" fill="#24a04f"/>
<rect x="439.88" y="921" width="6" height="81.5" fill="#24a04f"/>
<rect x="447.39" y="929.2" width="6" height="73.3" fill="#24a04f"/>
<rect x="455.65" y="931.55" width="4.5" height="70.2" fill="#fff" stroke="#d6393e" stroke-width="1.5"/>
<rect x="462.41" y="936.6" width="6" height="65.9" fill="#24a04f"/>
<rect x="470.67" y="930.85" width="4.5" height="70.9" fill="#fff" stroke="#d6393e" stroke-width="1.5"/>
<rect x="477.43" y="931.5" width="6" height="71" fill="#24a04f"/>
<rect x="485.69" y="936.15" width="4.5" height="65.6" fill="#fff" stroke="#d6393e" stroke-width="1.5"/>
<rect x="493.2" y="925.35" width="4.5" height="76.4" fill="#fff" stroke="#d6393e" stroke-width="1.5"/>
<rect x="499.96" y="930.8" width="6" height="71.7" fill="#24a04f"/>
<rect x="508.22" y="896.95" width="4.5" height="104.8" fill="#fff" stroke="#d6393e" stroke-width="1.5"/>
<rect x="514.98" y="930" width="6" height="72.5" fill="#24a04f"/>
<rect x="522.49" y="907.5" width="6" height="95" fill="#24a04f"/>
<rect x="530.75" y="918.85" width="4.5" height="82.9" fill="#fff" stroke="#d6393e" stroke-width="1.5"/>
<rect x="538.26" y="902.65" width="4.5" height="99.1" fill="#fff" stroke="#d6393e" stroke-width="1.5"/>
<rect x="545.77" y="882.75" width="4.5" height="119" fill="#fff" stroke="#d6393e" stroke-width="1.5"/>
<polyline points="7.3,932 14.81,931.5 22.32,931 29.83,930 37.34,929.5 44.85,929 52.36,927 59.87,925.5 67.38,924.5 74.89,924.08 82.4,921.37 89.91,919.76 97.42,919.37 104.93,920.34 112.44,920.25 119.95,917.34 127.46,917 134.97,916.93 142.48,916.31 149.99,917.39 157.5,919.27 165.01,919.96 172.52,919.5 180.03,919.45 187.54,919.5 195.05,921.91 202.56,921.81 210.07,923.02 217.58,924.01 225.09,923.89 232.6,923.44 240.11,924.13 247.62,924.66 255.13,924.29 262.64,923.87 270.15,923.98 277.66,924.99 285.17,924.83 292.68,924.53 300.19,922.35 307.7,920.92 315.21,920.39 322.72,920.32 330.23,920.69 337.74,920.53 345.25,920.23 352.76,920.92 360.27,921.77 367.78,921.96 375.29,923.98 382.8,927.47 390.31,929.15 397.82,929.96 405.33,928.06 412.84,927.99 420.35,927.67 427.86,927.05 435.37,927.05 442.88,926.57 450.39,927.26 457.9,926.41 465.41,926 472.92,925.58 480.43,927.71 487.94,928.93 495.45,929.39 502.96,930.08 510.47,926.62 517.98,927.52 525.49,925.35 533,924.08 540.51,920.61 548.02,915.8" fill="none" stroke="#f0a22e" stroke-width="1.2" stroke-linejoin="round" stroke-linecap="round" />
<polyline points="7.3,931.5 14.81,931 22.32,930.5 29.83,929 37.34,928.64 44.85,928.36 52.36,925.56 59.87,922.04 67.38,922.68 74.89,919.52 82.4,914.38 89.91,913.96 97.42,916.7 104.93,918 112.44,920.98 119.95,920.3 127.46,920.04 134.97,917.16 142.48,914.62 149.99,913.8 157.5,918.24 165.01,919.88 172.52,921.84 180.03,924.28 187.54,925.2 195.05,925.58 202.56,923.74 210.07,924.2 217.58,923.74 225.09,922.58 232.6,921.3 240.11,924.52 247.62,925.12 255.13,924.84 262.64,925.16 270.15,926.66 277.66,925.46 285.17,924.54 292.68,924.22 300.19,919.54 307.7,915.18 315.21,915.32 322.72,916.1 330.23,917.16 337.74,921.52 345.25,925.28 352.76,926.52 360.27,927.44 367.78,926.76 375.29,926.44 382.8,929.66 390.31,931.78 397.82,932.48 405.33,929.36 412.84,929.54 420.35,925.68 427.86,922.32 435.37,921.62 442.88,923.78 450.39,924.98 457.9,927.14 465.41,929.68 472.92,929.54 480.43,931.64 487.94,932.88 495.45,931.64 502.96,930.48 510.47,923.7 517.98,923.4 525.49,917.82 533,916.52 540.51,910.74 548.02,907.9" fill="none" stroke="#262626" stroke-width="1.2" stroke-linejoin="round" stroke-linecap="round" />
<line x1="5" y1="1095" x2="606" y2="1095" stroke="#efefef" stroke-width="1"/>
<line x1="5" y1="1156.5" x2="606" y2="1156.5" stroke="#e6e6e6" stroke-width="1"/>
<line x1="7.3" y1="1073.3" x2="7.3" y2="1076" stroke="#24a04f" stroke-width="1.3"/>
<line x1="14.81" y1="1073.3" x2="14.81" y2="1075" stroke="#24a04f" stroke-width="1.3"/>
<line x1="22.32" y1="1073.3" x2="22.32" y2="1080" stroke="#24a04f" stroke-width="1.3"/>
<line x1="29.83" y1="1073.3" x2="29.83" y2="1094.3" stroke="#24a04f" stroke-width="1.3"/>
<line x1="37.34" y1="1073.3" x2="37.34" y2="1106.9" stroke="#24a04f" stroke-width="1.3"/>
<line x1="44.85" y1="1073.3" x2="44.85" y2="1123" stroke="#24a04f" stroke-width="1.3"/>
<line x1="52.36" y1="1073.3" x2="52.36" y2="1123.6" stroke="#24a04f" stroke-width="1.3"/>
<line x1="59.87" y1="1073.3" x2="59.87" y2="1118.4" stroke="#24a04f" stroke-width="1.3"/>
<line x1="67.38" y1="1073.3" x2="67.38" y2="1108" stroke="#24a04f" stroke-width="1.3"/>
<line x1="74.89" y1="1073.3" x2="74.89" y2="1091.5" stroke="#24a04f" stroke-width="1.3"/>
<line x1="82.4" y1="1073.3" x2="82.4" y2="1078.2" stroke="#24a04f" stroke-width="1.3"/>
<line x1="89.91" y1="1073.3" x2="89.91" y2="1070.2" stroke="#d6393e" stroke-width="1.3"/>
<line x1="97.42" y1="1073.3" x2="97.42" y2="1062.6" stroke="#d6393e" stroke-width="1.3"/>
<line x1="104.93" y1="1073.3" x2="104.93" y2="1060.3" stroke="#d6393e" stroke-width="1.3"/>
<line x1="112.44" y1="1073.3" x2="112.44" y2="1053.4" stroke="#d6393e" stroke-width="1.3"/>
<line x1="119.95" y1="1073.3" x2="119.95" y2="1043.3" stroke="#d6393e" stroke-width="1.3"/>
<line x1="127.46" y1="1073.3" x2="127.46" y2="1036.9" stroke="#d6393e" stroke-width="1.3"/>
<line x1="134.97" y1="1073.3" x2="134.97" y2="1036" stroke="#d6393e" stroke-width="1.3"/>
<line x1="142.48" y1="1073.3" x2="142.48" y2="1035.7" stroke="#d6393e" stroke-width="1.3"/>
<line x1="149.99" y1="1073.3" x2="149.99" y2="1040.3" stroke="#d6393e" stroke-width="1.3"/>
<line x1="157.5" y1="1073.3" x2="157.5" y2="1043.1" stroke="#d6393e" stroke-width="1.3"/>
<line x1="165.01" y1="1073.3" x2="165.01" y2="1043.1" stroke="#d6393e" stroke-width="1.3"/>
<line x1="172.52" y1="1073.3" x2="172.52" y2="1040.3" stroke="#d6393e" stroke-width="1.3"/>
<line x1="180.03" y1="1073.3" x2="180.03" y2="1044.9" stroke="#d6393e" stroke-width="1.3"/>
<line x1="187.54" y1="1073.3" x2="187.54" y2="1048.4" stroke="#d6393e" stroke-width="1.3"/>
<line x1="195.05" y1="1073.3" x2="195.05" y2="1048.4" stroke="#d6393e" stroke-width="1.3"/>
<line x1="202.56" y1="1073.3" x2="202.56" y2="1049.5" stroke="#d6393e" stroke-width="1.3"/>
<line x1="210.07" y1="1073.3" x2="210.07" y2="1057.1" stroke="#d6393e" stroke-width="1.3"/>
<line x1="217.58" y1="1073.3" x2="217.58" y2="1058" stroke="#d6393e" stroke-width="1.3"/>
<line x1="225.09" y1="1073.3" x2="225.09" y2="1064.4" stroke="#d6393e" stroke-width="1.3"/>
<line x1="232.6" y1="1073.3" x2="232.6" y2="1070.9" stroke="#d6393e" stroke-width="1.3"/>
<line x1="247.62" y1="1073.3" x2="247.62" y2="1078.2" stroke="#24a04f" stroke-width="1.3"/>
<line x1="255.13" y1="1073.3" x2="255.13" y2="1078.7" stroke="#24a04f" stroke-width="1.3"/>
<line x1="262.64" y1="1073.3" x2="262.64" y2="1078.7" stroke="#24a04f" stroke-width="1.3"/>
<line x1="270.15" y1="1073.3" x2="270.15" y2="1079.3" stroke="#24a04f" stroke-width="1.3"/>
<line x1="277.66" y1="1073.3" x2="277.66" y2="1092" stroke="#24a04f" stroke-width="1.3"/>
<line x1="285.17" y1="1073.3" x2="285.17" y2="1098.9" stroke="#24a04f" stroke-width="1.3"/>
<line x1="292.68" y1="1073.3" x2="292.68" y2="1103.9" stroke="#24a04f" stroke-width="1.3"/>
<line x1="300.19" y1="1073.3" x2="300.19" y2="1103.9" stroke="#24a04f" stroke-width="1.3"/>
<line x1="307.7" y1="1073.3" x2="307.7" y2="1096.6" stroke="#24a04f" stroke-width="1.3"/>
<line x1="315.21" y1="1073.3" x2="315.21" y2="1087.4" stroke="#24a04f" stroke-width="1.3"/>
<line x1="322.72" y1="1073.3" x2="322.72" y2="1088.5" stroke="#24a04f" stroke-width="1.3"/>
<line x1="330.23" y1="1073.3" x2="330.23" y2="1090.8" stroke="#24a04f" stroke-width="1.3"/>
<line x1="337.74" y1="1073.3" x2="337.74" y2="1093.8" stroke="#24a04f" stroke-width="1.3"/>
<line x1="345.25" y1="1073.3" x2="345.25" y2="1097.7" stroke="#24a04f" stroke-width="1.3"/>
<line x1="352.76" y1="1073.3" x2="352.76" y2="1096.6" stroke="#24a04f" stroke-width="1.3"/>
<line x1="360.27" y1="1073.3" x2="360.27" y2="1101.6" stroke="#24a04f" stroke-width="1.3"/>
<line x1="367.78" y1="1073.3" x2="367.78" y2="1098.9" stroke="#24a04f" stroke-width="1.3"/>
<line x1="375.29" y1="1073.3" x2="375.29" y2="1095.4" stroke="#24a04f" stroke-width="1.3"/>
<line x1="382.8" y1="1073.3" x2="382.8" y2="1090.8" stroke="#24a04f" stroke-width="1.3"/>
<line x1="390.31" y1="1073.3" x2="390.31" y2="1090.8" stroke="#24a04f" stroke-width="1.3"/>
<line x1="397.82" y1="1073.3" x2="397.82" y2="1085.1" stroke="#24a04f" stroke-width="1.3"/>
<line x1="405.33" y1="1073.3" x2="405.33" y2="1071.3" stroke="#d6393e" stroke-width="1.3"/>
<line x1="412.84" y1="1073.3" x2="412.84" y2="1055.7" stroke="#d6393e" stroke-width="1.3"/>
<line x1="420.35" y1="1073.3" x2="420.35" y2="1049.5" stroke="#d6393e" stroke-width="1.3"/>
<line x1="427.86" y1="1073.3" x2="427.86" y2="1044.9" stroke="#d6393e" stroke-width="1.3"/>
<line x1="435.37" y1="1073.3" x2="435.37" y2="1045.6" stroke="#d6393e" stroke-width="1.3"/>
<line x1="442.88" y1="1073.3" x2="442.88" y2="1053" stroke="#d6393e" stroke-width="1.3"/>
<line x1="450.39" y1="1073.3" x2="450.39" y2="1066.7" stroke="#d6393e" stroke-width="1.3"/>
<line x1="457.9" y1="1073.3" x2="457.9" y2="1072" stroke="#d6393e" stroke-width="1.3"/>
<line x1="465.41" y1="1073.3" x2="465.41" y2="1082.3" stroke="#24a04f" stroke-width="1.3"/>
<line x1="472.92" y1="1073.3" x2="472.92" y2="1083.9" stroke="#24a04f" stroke-width="1.3"/>
<line x1="480.43" y1="1073.3" x2="480.43" y2="1083.9" stroke="#24a04f" stroke-width="1.3"/>
<line x1="487.94" y1="1073.3" x2="487.94" y2="1082.3" stroke="#24a04f" stroke-width="1.3"/>
<line x1="495.45" y1="1073.3" x2="495.45" y2="1078.2" stroke="#24a04f" stroke-width="1.3"/>
<line x1="502.96" y1="1073.3" x2="502.96" y2="1088.5" stroke="#24a04f" stroke-width="1.3"/>
<line x1="510.47" y1="1073.3" x2="510.47" y2="1090.1" stroke="#24a04f" stroke-width="1.3"/>
<line x1="517.98" y1="1073.3" x2="517.98" y2="1093" stroke="#24a04f" stroke-width="1.3"/>
<line x1="525.49" y1="1073.3" x2="525.49" y2="1111" stroke="#24a04f" stroke-width="1.3"/>
<line x1="533" y1="1073.3" x2="533" y2="1115.4" stroke="#24a04f" stroke-width="1.3"/>
<line x1="540.51" y1="1073.3" x2="540.51" y2="1103.8" stroke="#24a04f" stroke-width="1.3"/>
<line x1="548.02" y1="1073.3" x2="548.02" y2="1072.8" stroke="#d6393e" stroke-width="1.3"/>
<polyline points="8,1101.2 20.7,1102.3 34.4,1108 48.2,1116.1 59.7,1125.2 71.1,1132.1 82.6,1135.1 96.4,1134.4 110.2,1131 123.9,1124.1 135,1117.2 148.8,1108 164.8,1098.9 180.9,1090.8 199.3,1082.8 215.3,1078.2 231.4,1076.6 249.8,1077.7 270,1080.5 283.8,1086.2 297.5,1093.8 311.3,1098.4 329.7,1103 348,1109.9 366.4,1117.7 384.8,1124.1 398.5,1127.5 410,1126 418.8,1121.8 432.5,1114.9 446.3,1110.3 455.5,1110.3 473.9,1113.8 492.2,1116.8 508.3,1120.7 519.8,1124.1 533.5,1133.3 542.7,1136.7 548.3,1138" fill="none" stroke="#f0a22e" stroke-width="1.4" stroke-linejoin="round" stroke-linecap="round" />
<polyline points="8,1102.3 16.1,1102.3 25.2,1106.9 36.7,1121.8 45.9,1140.2 55.1,1148.2 62,1150.5 67.7,1149.8 80.3,1142.5 91.8,1134.4 101,1127.5 107.9,1124.1 117.1,1117.2 128.5,1105.7 135,1098.4 144.2,1092 153.4,1089.2 164.8,1083.9 172.9,1078.7 185.5,1076.4 194.7,1073.1 202.7,1070.9 210.7,1072 218.8,1070.9 226.8,1073.1 236,1075.9 249.8,1080 262,1082.5 270,1084.5 279.2,1092 288.4,1101.2 301,1109.9 307.9,1108.5 315.9,1105.7 325.1,1108.5 334.3,1113.1 345.7,1120.7 352.6,1123.6 360.7,1129.2 371,1131.4 382.5,1132.4 391.6,1134.4 398.5,1132.8 405,1125.9 414.2,1114.9 423.4,1106.9 430.2,1102.3 437.1,1100.7 444,1103 453.2,1109.2 464.7,1116.8 478.4,1120.2 487.6,1120.7 495.7,1119.5 503.7,1126.4 517.5,1133.7 525.5,1147.1 532.4,1154.3 539.5,1153.2 548.3,1138" fill="none" stroke="#262626" stroke-width="1.4" stroke-linejoin="round" stroke-linecap="round" />
</svg>

<!-- right axis labels -->
<div class="a num" style="left:556px;top:388px;font-size:13.5px;line-height:14px;color:#333">3117.79</div>
<div class="a num" style="left:556px;top:483px;font-size:13.5px;line-height:14px;color:#333">3019.39</div>
<div class="a num" style="left:556px;top:583px;font-size:13.5px;line-height:14px;color:#333">2920.98</div>
<div class="a num" style="left:556px;top:685px;font-size:13.5px;line-height:14px;color:#333">2822.57</div>
<div class="a num" style="left:556px;top:781px;font-size:13.5px;line-height:14px;color:#333">2724.16</div>
<div class="a num" style="left:5px;top:789px;font-size:14.2px;line-height:14px;color:#3a3a3a">2023/10/16</div>
<div class="a num" style="left:246px;top:789px;font-size:14.2px;line-height:14px;color:#3a3a3a">2023/12/06</div>
<div class="a num" style="left:487px;top:789px;font-size:14.2px;line-height:14px;color:#3a3a3a">2024/01/25</div>

<!-- period row -->
<div class="a" style="left:5px;top:804px;width:600px;height:46px;background:#f5f8fd"></div>
<div class="a" style="left:5px;top:804px;width:108px;height:46px;background:#e4edfb"></div>
<div class="a cjk" style="left:49px;top:817px;font-size:19px;line-height:26px;color:#2f6fd8">日</div>
<div class="a cjk" style="left:158px;top:817px;font-size:19px;line-height:26px;color:#333">周</div>
<div class="a cjk" style="left:266px;top:817px;font-size:19px;line-height:26px;color:#333">月</div>
<div class="a cjk" style="left:359px;top:817px;font-size:19px;line-height:26px;color:#333">更多<span style="font-size:12px;vertical-align:2px">&#9650;</span></div>
<div class="a" style="left:469px;top:816px;width:50px;height:25px;border:1px solid #c9d5e8;border-radius:3px;background:#fff"></div>
<div class="a" style="left:548px;top:816px;width:50px;height:25px;border:1px solid #c9d5e8;border-radius:3px;background:#fff"></div>
<svg class="a" style="left:486px;top:820px" width="16" height="16" viewBox="0 0 16 16"><path d="M8 1v14M1 8h14" stroke="#2f6fd8" stroke-width="1.6"/></svg>
<svg class="a" style="left:565px;top:820px" width="16" height="16" viewBox="0 0 16 16"><path d="M1 8h14" stroke="#2f6fd8" stroke-width="1.6"/></svg>

<!-- VOL row -->
<div class="a" style="left:12.5px;top:854.5px;width:67px;height:27px;background:#ebf0f9"></div>
<div class="a num" style="left:19.5px;top:857px;font-size:18px;line-height:22px;color:#222">VOL</div>
<svg class="a" style="left:62.5px;top:865.5px" width="11" height="6" viewBox="0 0 11 6"><path d="M0 0h11L5.5 5.5z" fill="#333"/></svg>
<div class="a num" style="left:95.5px;top:857px;font-size:18px;line-height:22px;color:#222">VOL:</div>
<div class="a num" style="left:142.5px;top:859px;font-size:18px;line-height:22px;color:#222">4.42<span class="cjk">亿</span></div>
<div class="a num" style="left:211px;top:857px;font-size:18px;line-height:22px;color:#222">MA 5:</div>
<div class="a num" style="left:266px;top:859px;font-size:18px;line-height:22px;color:#222">3.47<span class="cjk">亿</span></div>
<div class="a num" style="left:333px;top:857px;font-size:18px;line-height:22px;color:#e59a1e">10:</div>
<div class="a num" style="left:364px;top:859px;font-size:18px;line-height:22px;color:#e59a1e">3.18<span class="cjk">亿</span></div>
<div class="a num" style="left:561px;top:885px;font-size:14px;line-height:16px;color:#333">4.42亿</div>
<div class="a num" style="left:561px;top:937px;font-size:14px;line-height:16px;color:#333">2.21亿</div>
<div class="a num" style="left:597px;top:987px;font-size:14px;line-height:16px;color:#333">0</div>

<!-- MACD row -->
<div class="a" style="left:12px;top:1007.5px;width:87px;height:27px;background:#ebf0f9"></div>
<div class="a num" style="left:20px;top:1010px;font-size:18.5px;line-height:22px;color:#222">MACD</div>
<svg class="a" style="left:81px;top:1018.5px" width="11" height="6" viewBox="0 0 11 6"><path d="M0 0h11L5.5 5.5z" fill="#333"/></svg>
<div class="a num" style="left:114px;top:1010px;font-size:18px;line-height:22px;color:#222">DIFF: -34.56</div>
<div class="a num" style="left:237px;top:1010px;font-size:18px;line-height:22px;color:#e59a1e">DEA: -34.61</div>
<div class="a num" style="left:347px;top:1010px;font-size:18px;line-height:22px;color:#2f6fd8">MACD: 0.10</div>
<div class="a num" style="left:571px;top:1039px;font-size:14px;line-height:16px;color:#333">20.44</div>
<div class="a num" style="left:565px;top:1090px;font-size:14px;line-height:16px;color:#333">-11.82</div>
<div class="a num" style="left:565px;top:1141px;font-size:14px;line-height:16px;color:#333">-44.08</div>
<div class="a" style="left:11.5px;top:1112px;width:29px;height:29px;border-radius:50%;background:rgba(228,234,250,0.8)"></div>
<svg class="a" style="left:16px;top:1117px" width="21" height="21" viewBox="0 0 21 21"><path d="M3.7 3.7l5 5M3.7 3.7h4.3M3.7 3.7v4.3M17.8 17.8l-5-5M17.8 17.8h-4.3M17.8 17.8v-4.3" stroke="#3a6fd8" stroke-width="1.7" fill="none" stroke-linecap="round"/></svg>

<!-- indicator row -->
<div class="a cjk" style="left:20px;top:1166px;font-size:18px;line-height:26px;color:#555">无指标</div>
<div class="a num" style="left:102px;top:1165px;font-size:18px;line-height:26px;color:#2f6fd8">MA</div>
<div class="a num" style="left:159px;top:1165px;font-size:18px;line-height:26px;color:#555">BOLL</div>
<div class="a cjk" style="left:231px;top:1165px;font-size:18px;line-height:26px;color:#555"><span style="font-family:'Liberation Serif',serif;font-weight:bold;color:#e6a21c;font-size:20px">V</span>九转</div>
<div class="a cjk" style="left:309px;top:1165px;font-size:18px;line-height:26px;color:#555"><span style="font-family:'Liberation Serif',serif;font-weight:bold;color:#e6a21c;font-size:20px">V</span>波段王</div>
<div class="a cjk" style="left:404px;top:1165px;font-size:18px;line-height:26px;color:#555"><span style="font-family:'Liberation Serif',serif;font-weight:bold;color:#e6a21c;font-size:20px">V</span>追击反转</div>
<div class="a cjk" style="left:519px;top:1165px;font-size:18px;line-height:26px;color:#555"><span style="font-family:'Liberation Serif',serif;font-weight:bold;color:#e6a21c;font-size:20px">V</span></div>
<div class="a" style="left:521px;top:1160px;width:5px;height:32px;background:linear-gradient(90deg,rgba(255,255,255,0.2),#fff)"></div>
<div class="a" style="left:526px;top:1160px;width:84px;height:32px;background:#fff"></div>
<svg class="a" style="left:536px;top:1168px" width="22" height="18" viewBox="0 0 22 18"><path d="M1 2h14M1 9h7M1 16h14" stroke="#444" stroke-width="1.8"/><circle cx="16" cy="10.5" r="4.3" fill="none" stroke="#444" stroke-width="1.8"/><circle cx="16" cy="10.5" r="1.2" fill="#444"/></svg>
<div class="a cjk" style="left:562px;top:1166px;font-size:18px;line-height:26px;color:#444">设置</div>

<div class="band" style="top:1196px;height:10px;background:#f6f6fa"></div>

<!-- news -->
<div class="a" style="left:0;top:1222px;width:6px;height:26px;background:linear-gradient(180deg,#3a8ef5,#1a6fe8)"></div>
<div class="a cjk" style="left:16px;top:1221px;font-size:24px;line-height:32px;color:#222;letter-spacing:1px">相关资讯</div>
<div class="a cjk" style="left:539px;top:1223px;font-size:20px;line-height:27px;color:#999">更多</div>
<svg class="a" style="left:585px;top:1226px" width="10" height="18" viewBox="0 0 10 18"><path d="M2 2l6 7-6 7" fill="none" stroke="#aaa" stroke-width="1.5"/></svg>

<!-- bottom bar -->
<div class="a" style="left:0;top:1264px;width:610px;height:92px;background:#f6f6fa"></div>
<svg class="a" style="left:31px;top:1299px" width="27" height="24" viewBox="0 0 27 24"><path d="M6 1h15l5 7-12.5 15L1 8z" fill="#f4a51d"/><text x="13.5" y="16" font-size="11" font-weight="bold" text-anchor="middle" fill="#fff" font-family="Liberation Serif,serif">V</text></svg>
<div class="a num" style="left:62px;top:1299px;font-size:22px;line-height:28px;color:#222">VIP<span class="cjk">决策</span></div>
<svg class="a" style="left:80px;top:1280px" width="14" height="9" viewBox="0 0 14 9"><path d="M7 0L14 9H0z" fill="#222"/></svg>
<div class="a cjk" style="left:95px;top:1270.5px;width:75px;height:27.5px;border-radius:13.5px 13.5px 13.5px 0;background:#e94a5a;color:#fff;font-size:15.5px;line-height:29px;text-align:center;letter-spacing:0.3px">买一得三</div>
<div class="a" style="left:174px;top:1290px;width:1px;height:40px;background:#e2e2e6"></div>
<div class="a" style="left:274px;top:1290px;width:1px;height:40px;background:#e2e2e6"></div>
<svg class="a" style="left:209px;top:1275px" width="28" height="28" viewBox="0 0 28 28"><path d="M14 2l11 6v12l-11 6-11-6V8z" fill="none" stroke="#333" stroke-width="2.2" stroke-linejoin="round"/><path d="M8 10l6 4 6-4M14 14v7" fill="none" stroke="#333" stroke-width="2.2" stroke-linecap="round"/></svg>
<div class="a cjk" style="left:206px;top:1306px;font-size:17px;line-height:24px;color:#222">功能</div>
<svg class="a" style="left:309px;top:1276px" width="26" height="26" viewBox="0 0 26 26"><circle cx="13" cy="13" r="11.3" fill="none" stroke="#2f6fd8" stroke-width="2"/><path d="M13 7v12M7 13h12" stroke="#2f6fd8" stroke-width="2"/></svg>
<div class="a cjk" style="left:295px;top:1306px;font-size:17px;line-height:24px;color:#222">加自选</div>
<div class="a" style="left:373px;top:1265px;width:118px;height:66px;background:linear-gradient(105deg,#f7806c,#f15a50 55%,#ee3a3c)"></div>
<div class="a" style="left:491px;top:1265px;width:119px;height:66px;background:linear-gradient(105deg,#5c90f8,#4a80f5 50%,#3a70f2)"></div>
<div class="a cjk" style="left:401px;top:1285px;font-size:21px;line-height:28px;color:#fff">买指数</div>
<div class="a cjk" style="left:520px;top:1285px;font-size:21px;line-height:28px;color:#fff">买股票</div>
<div class="a cjk" style="left:473px;top:1287px;font-size:40px;line-height:48px;color:rgba(255,255,255,0.45);font-weight:500;letter-spacing:1.5px;text-shadow:0 0 1px rgba(110,110,110,0.35)">腔友圈</div>
<div class="a num" style="left:477px;top:1329px;font-size:15px;line-height:16px;color:rgba(190,190,200,0.45);font-style:italic;font-weight:bold;letter-spacing:1.2px">18qiang.com</div>
<div class="a" style="left:195px;top:1341px;width:217px;height:6px;border-radius:3px;background:#111"></div>

</body></html>
